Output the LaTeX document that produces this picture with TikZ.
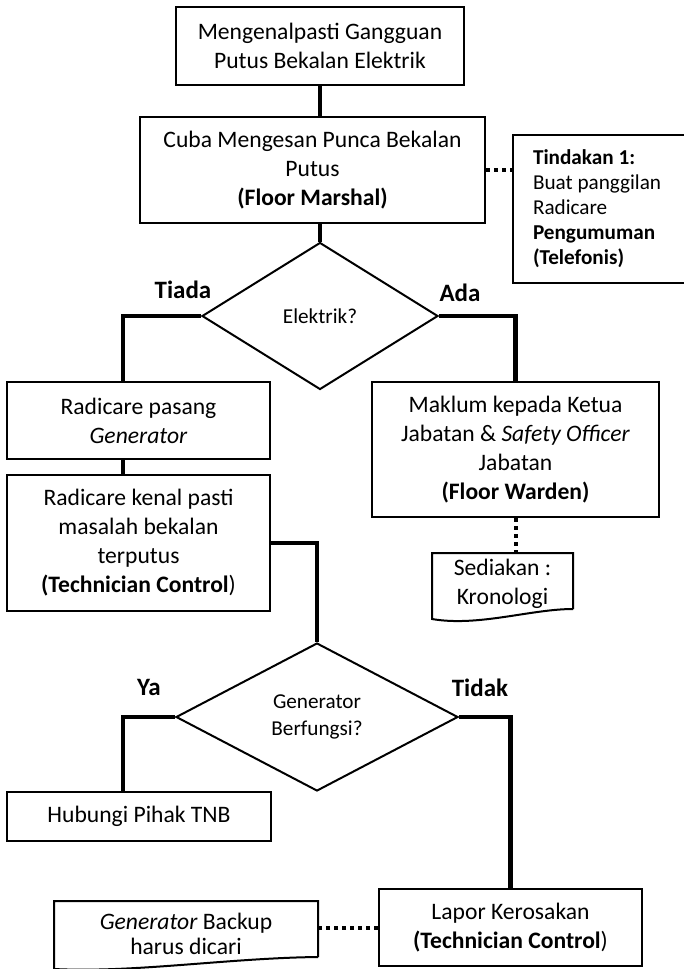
\documentclass[tikz,border=0pt]{standalone}
\usepackage{fontspec}
\setmainfont{Carlito}
\usetikzlibrary{shapes.geometric}
\tikzset{box/.style={draw,line width=1pt,rectangle,align=center,inner sep=0pt,
		font=\fontsize{11.8}{14.5}\selectfont},
	decision/.style={draw,line width=1pt,diamond,inner sep=0pt,align=center,
		font=\fontsize{10.6}{13.5}\selectfont},
	doctext/.style={draw=none,rectangle,align=center,inner sep=0pt,
		font=\fontsize{11.8}{14.5}\selectfont},
	answer/.style={font=\fontsize{12.5}{15}\selectfont\bfseries},
	elbow/.style={to path={-| (\tikztotarget)}},
	flow/.style={draw,line width=2.3pt},
	dots/.style={draw,line width=2pt,dash pattern=on 2pt off 2pt}}

\begin{document}
\begin{tikzpicture}[x=0.5pt,y=-0.5pt]
		\useasboundingbox (0,0) rectangle (684,969);
		\begin{scope}[every node/.style={box}]
			\node[minimum width=144pt,minimum height=39pt] (b1) at (320,46)
				{Mengenalpasti Gangguan\\Putus Bekalan Elektrik};
			\node[minimum width=172.5pt,minimum height=53pt] (b2) at (312.5,170)
				{Cuba Mengesan Punca Bekalan\\Putus\\\textbf{(Floor Marshal)}};
			\node[minimum width=87.5pt,minimum height=74pt,text width=67.5pt,align=flush left,
				font=\fontsize{10.6}{12.5}\selectfont] (act) at (600.5,209)
				{\textbf{Tindakan 1:}\\Buat panggilan\\Radicare\\\textbf{Pengumuman}\\\textbf{(Telefonis)}};
			\node[minimum width=131.5pt,minimum height=38.5pt] (b4) at (138.5,420.5)
				{Radicare pasang\\\textit{Generator}};
			\node[minimum width=131.5pt,minimum height=68pt] (b6) at (138.5,543)
				{Radicare kenal pasti\\masalah bekalan\\terputus\\\textbf{(Technician Control})};
			\node[minimum width=143.5pt,minimum height=67.5pt] (b5) at (515.5,449.5)
				{Maklum kepada Ketua\\Jabatan \& \textit{Safety Officer}\\Jabatan\\\textbf{(Floor Warden)}};
			\node[minimum width=132pt,minimum height=24.5pt] (b7) at (139,816.5)
				{Hubungi Pihak TNB};
			\node[minimum width=131.5pt,minimum height=38.5pt] (b8) at (510.5,927.5)
				{Lapor Kerosakan\\\textbf{(Technician Control})};
			\node[doctext,minimum width=69.5pt,minimum height=30pt] (doc1) at (502.5,584)
				{Sediakan :\\Kronologi};
			\node[doctext,minimum width=131pt,minimum height=32pt,
				font=\fontsize{11.8}{12.2}\selectfont] (doc2) at (186,934)
				{\textit{Generator} Backup\\harus dicari};
		\end{scope}
		\node[decision,minimum width=118pt,minimum height=73.5pt] (d1) at (320,316) {Elektrik?};
		\node[decision,minimum width=141pt,minimum height=74pt] (d2) at (317,717)
			{Generator\\Berfungsi?};
		% document outlines
		\draw[line width=1pt] ([yshift=3pt]doc1.south east) -- (doc1.north east) -- (doc1.north west)
			-- ([yshift=-2pt]doc1.south west)
			.. controls ([xshift=23pt,yshift=-6pt]doc1.south west)
			and ([xshift=-21pt,yshift=3pt]doc1.south east) .. ([yshift=3pt]doc1.south east);
		\draw[line width=1pt] ([yshift=5pt]doc2.south east) -- (doc2.north east) -- (doc2.north west)
			-- ([yshift=-1pt]doc2.south west)
			.. controls ([xshift=40pt,yshift=-3pt]doc2.south west)
			and ([xshift=-45pt,yshift=4.5pt]doc2.south east) .. ([yshift=5pt]doc2.south east);
		\begin{scope}[every node/.style={answer}]
			\node (tiada) at (183,290) {Tiada};
			\node (ada) at (460,293) {Ada};
			\node (ya) at (149,687) {Ya};
			\node (tidak) at (480,688) {Tidak};
		\end{scope}
		\begin{scope}[every edge/.style={flow}]
			\path [-] (b1.south) edge (b1.south |- b2.north);
			\path [-] (b2.south -| d1.north) edge (d1.north);
			\path [-] (d1.west) edge[elbow] ([xshift=-7.75pt]b4.north);
			\path [-] (d1.east) edge[elbow] (b5.north);
			\path [-] ([xshift=-7.75pt]b4.south) edge ([xshift=-7.75pt]b6.north);
			\path [-] (b6.east) edge[elbow] (d2.north);
			\path [-] (d2.west) edge[elbow] ([xshift=-8pt]b7.north);
			\path [-] (d2.east) edge[elbow] (b8.north);
		\end{scope}
		\begin{scope}[every edge/.style={dots}]
			\path [-] (b2.east) edge (b2.east -| act.west);
			\path [-] (b5.south) edge (b5.south |- doc1.north);
			\path [-] (b8.west) edge (b8.west -| doc2.east);
		\end{scope}
	\end{tikzpicture}
\end{document}
